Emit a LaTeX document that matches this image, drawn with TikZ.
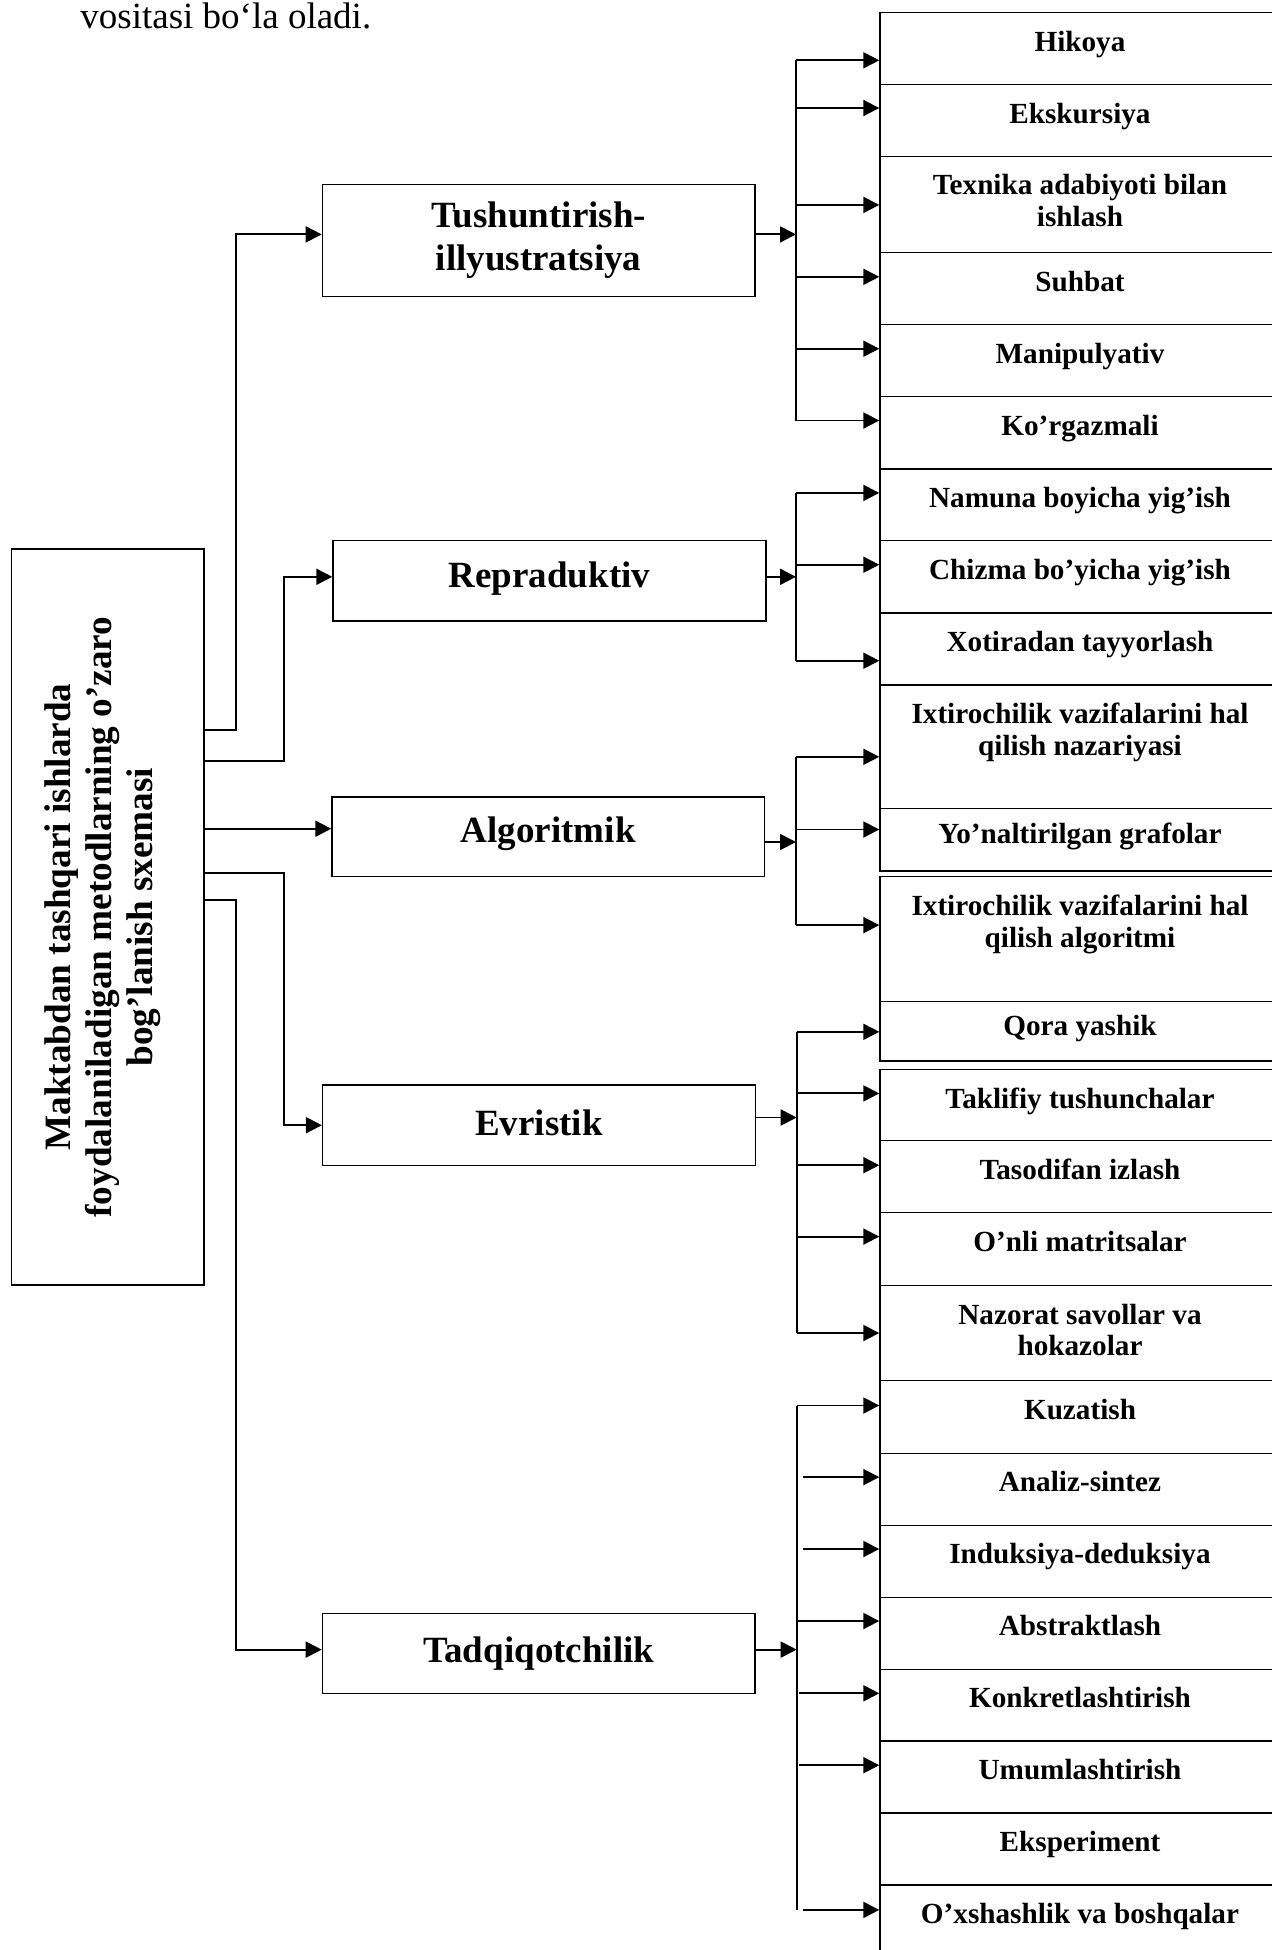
\documentclass[tikz,border=0pt]{standalone}
\usepackage{fontspec}
\setmainfont{Liberation Serif}
\usetikzlibrary{arrows.meta,positioning,fit}

\tikzset{
  box/.style={draw, line width=0.7pt, inner sep=0pt},
  rtext/.style={inner sep=0pt, align=center, font=\fontsize{14.6}{15.85}\selectfont\bfseries},
  mtext/.style={align=center, font=\fontsize{18.5}{21.5}\selectfont\bfseries},
  arr/.style={line width=0.95pt, -{Triangle[length=8pt,width=8pt]}},
  bus/.style={line width=0.95pt},
}

\begin{document}
\begin{tikzpicture}[x=0.5pt,y=-0.5pt]
  \useasboundingbox (0,0) rectangle (1272,1950);
  \clip (0,0) rectangle (1272,1950);

  \node[anchor=base west, inner sep=0pt, font=\fontsize{18.5}{22}\selectfont] (intro) at (80,28) {vositasi bo‘la oladi.};

  \node[box, fit={(11.5,549) (203.8,1285)}] (main) {};
  \node[rotate=90, align=center, font=\fontsize{18.6}{20.4}\selectfont\bfseries] (main-t) at ([xshift=-2.5pt]main.center)
    {Maktabdan tashqari ishlarda\\foydalaniladigan metodlarning o’zaro\\bog’lanish sxemasi};

  \node[box, fit={(322.4,184.4) (755,296.6)}] (tush) {};
  \node[mtext] (tush-t) at (tush.center) {Tushuntirish-\\illyustratsiya};
  \node[box, fit={(333,540.4) (766,621)}] (repr) {};
  \node[mtext] (repr-t) at ([yshift=1pt]repr.center) {Repraduktiv};
  \node[box, fit={(332,797) (764.5,876.5)}] (algm) {};
  \node[mtext] (algm-t) at ([yshift=1.5pt]algm.center) {Algoritmik};
  \node[box, fit={(322.6,1085) (755.2,1165.4)}] (evr) {};
  \node[mtext] (evr-t) at ([yshift=1pt]evr.center) {Evristik};
  \node[box, fit={(322.4,1613.3) (755,1693.3)}] (tadq) {};
  \node[mtext] (tadq-t) at (tadq.center) {Tadqiqotchilik};

  \node[box, fit={(880,12.5) (1280,84.4)}] (hik) {};
  \node[rtext, below=9.35pt of hik.north] (hik-t) {Hikoya};
  \node[box, fit={(880,84.4) (1280,156.3)}] (eks) {};
  \node[rtext, below=9.35pt of eks.north] (eks-t) {Ekskursiya};
  \node[box, fit={(880,156.3) (1280,252.7)}] (tex) {};
  \node[rtext, below=9.35pt of tex.north] (tex-t) {Texnika adabiyoti bilan\\ishlash};
  \node[box, fit={(880,252.7) (1280,324.6)}] (suh) {};
  \node[rtext, below=9.35pt of suh.north] (suh-t) {Suhbat};
  \node[box, fit={(880,324.6) (1280,396.4)}] (man) {};
  \node[rtext, below=9.35pt of man.north] (man-t) {Manipulyativ};
  \node[box, fit={(880,396.4) (1280,468.8)}] (korg) {};
  \node[rtext, below=9.35pt of korg.north] (korg-t) {Ko’rgazmali};

  \node[box, fit={(880,468.8) (1280,540.6)}] (nam) {};
  \node[rtext, below=9.35pt of nam.north] (nam-t) {Namuna boyicha yig’ish};
  \node[box, fit={(880,540.6) (1280,612.9)}] (chiz) {};
  \node[rtext, below=9.35pt of chiz.north] (chiz-t) {Chizma bo’yicha yig’ish};
  \node[box, fit={(880,612.9) (1280,684.8)}] (xot) {};
  \node[rtext, below=9.35pt of xot.north] (xot-t) {Xotiradan tayyorlash};

  \node[box, fit={(880,684.8) (1280,808.6)}] (naz) {};
  \node[rtext, below=9.35pt of naz.north] (naz-t) {Ixtirochilik vazifalarini hal\\qilish nazariyasi};
  \node[box, fit={(880,808.6) (1280,871)}] (yon) {};
  \node[rtext, below=7.1pt of yon.north] (yon-t) {Yo’naltirilgan grafolar};
  \node[box, fit={(880,876.4) (1280,1001.4)}] (alg) {};
  \node[rtext, below=9.35pt of alg.north] (alg-t) {Ixtirochilik vazifalarini hal\\qilish algoritmi};
  \node[box, fit={(880,1001.4) (1280,1061)}] (qora) {};
  \node[rtext, below=7.1pt of qora.north] (qora-t) {Qora yashik};

  \node[box, fit={(880,1069.3) (1280,1140.7)}] (tak) {};
  \node[rtext, below=9.35pt of tak.north] (tak-t) {Taklifiy tushunchalar};
  \node[box, fit={(880,1140.7) (1280,1212.6)}] (tas) {};
  \node[rtext, below=9.35pt of tas.north] (tas-t) {Tasodifan izlash};
  \node[box, fit={(880,1212.6) (1280,1285.4)}] (onli) {};
  \node[rtext, below=9.35pt of onli.north] (onli-t) {O’nli matritsalar};
  \node[box, fit={(880,1285.4) (1280,1380.6)}] (nazr) {};
  \node[rtext, below=9.35pt of nazr.north] (nazr-t) {Nazorat savollar va\\hokazolar};

  \node[box, fit={(880,1380.6) (1280,1453.3)}] (kuz) {};
  \node[rtext, below=9.35pt of kuz.north] (kuz-t) {Kuzatish};
  \node[box, fit={(880,1453.3) (1280,1525.3)}] (anl) {};
  \node[rtext, below=9.35pt of anl.north] (anl-t) {Analiz-sintez};
  \node[box, fit={(880,1525.3) (1280,1597.2)}] (ind) {};
  \node[rtext, below=9.35pt of ind.north] (ind-t) {Induksiya-deduksiya};
  \node[box, fit={(880,1597.2) (1280,1669.2)}] (abs) {};
  \node[rtext, below=9.35pt of abs.north] (abs-t) {Abstraktlash};
  \node[box, fit={(880,1669.2) (1280,1741.1)}] (konk) {};
  \node[rtext, below=9.35pt of konk.north] (konk-t) {Konkretlashtirish};
  \node[box, fit={(880,1741.1) (1280,1813.1)}] (umum) {};
  \node[rtext, below=9.35pt of umum.north] (umum-t) {Umumlashtirish};
  \node[box, fit={(880,1813.1) (1280,1885)}] (eksp) {};
  \node[rtext, below=9.35pt of eksp.north] (eksp-t) {Eksperiment};
  \node[box, fit={(880,1885) (1280,1990)}] (oxsh) {};
  \node[rtext, below=9.35pt of oxsh.north] (oxsh-t) {O’xshashlik va boshqalar};

  \coordinate (m1) at (236,729.7);
  \coordinate (m2) at (284,761.3);
  \coordinate (m3) at (284,828.7);
  \coordinate (m4) at (284,873);
  \coordinate (m5) at (236,900);

  \coordinate (tin) at (796,234.4);
  \coordinate (t1) at (796,60.3);
  \coordinate (t2) at (796,108);
  \coordinate (t3) at (796,204.9);
  \coordinate (t4) at (796,276.8);
  \coordinate (t5) at (796,348.7);
  \coordinate (t6) at (796,420.5);

  \coordinate (rin) at (796,576.8);
  \coordinate (r1) at (796,492.9);
  \coordinate (r2) at (796,564.7);
  \coordinate (r3) at (796,660.7);

  \coordinate (ain) at (796,842);
  \coordinate (a1) at (796,756.8);
  \coordinate (a2) at (796,829.5);
  \coordinate (a3) at (796,925.1);

  \coordinate (ein) at (796.7,1117.5);
  \coordinate (e1) at (796.7,1031.8);
  \coordinate (e2) at (796.7,1093.4);
  \coordinate (e3) at (796.7,1165.2);
  \coordinate (e4) at (796.7,1236.6);
  \coordinate (e5) at (796.7,1333);

  \coordinate (din) at (796.7,1649.6);
  \coordinate (d1) at (796.7,1405.5);
  \coordinate (d2) at (796.7,1477.1);
  \coordinate (d3) at (796.7,1549);
  \coordinate (d4) at (796.7,1621);
  \coordinate (d5) at (796.7,1693.3);
  \coordinate (d6) at (796.7,1765.2);
  \coordinate (d7) at (796.7,1909.9);

  \begin{scope}[bus]
    \draw (t1) -- (t6);
    \draw (r1) -- (r3);
    \draw (a1) -- (a3);
    \draw (e1) -- (e5);
    \draw (d1) -- (d7);
  \end{scope}

  \begin{scope}[arr]
    \draw (main.east |- m1) -- (m1) |- (tush.west |- tin);
    \draw (main.east |- m2) -- (m2) |- (repr.west |- rin);
    \draw (main.east |- m3) -- (algm.west |- m3);
    \draw (main.east |- m4) -- (m4) |- (evr);
    \draw (main.east |- m5) -- (m5) |- (tadq.west |- din);

    \draw (tush.east |- tin) -- (tin);
    \draw (repr.east |- rin) -- (rin);
    \draw (algm.east |- ain) -- (ain);
    \draw (evr.east |- ein) -- (ein);
    \draw (tadq.east |- din) -- (din);

    \draw (t1) -- (t1 -| hik.west);
    \draw (t2) -- (t2 -| eks.west);
    \draw (t3) -- (t3 -| tex.west);
    \draw (t4) -- (t4 -| suh.west);
    \draw (t5) -- (t5 -| man.west);
    \draw (t6) -- (t6 -| korg.west);

    \draw (r1) -- (r1 -| nam.west);
    \draw (r2) -- (r2 -| chiz.west);
    \draw (r3) -- (r3 -| xot.west);

    \draw (a1) -- (a1 -| naz.west);
    \draw (a2) -- (a2 -| yon.west);
    \draw (a3) -- (a3 -| alg.west);

    \draw (e1) -- (e1 -| qora.west);
    \draw (e2) -- (e2 -| tak.west);
    \draw (e3) -- (e3 -| tas.west);
    \draw (e4) -- (e4 -| onli.west);
    \draw (e5) -- (e5 -| nazr.west);

    \draw (d1) -- (d1 -| kuz.west);
    \draw[shorten <=3.3pt] (d2) -- (d2 -| anl.west);
    \draw[shorten <=3.3pt] (d3) -- (d3 -| ind.west);
    \draw (d4) -- (d4 -| abs.west);
    \draw[shorten <=1.3pt] (d5) -- (d5 -| konk.west);
    \draw[shorten <=1.3pt] (d6) -- (d6 -| umum.west);
    \draw[shorten <=3.3pt] (d7) -- (d7 -| oxsh.west);
  \end{scope}
\end{tikzpicture}
\end{document}
